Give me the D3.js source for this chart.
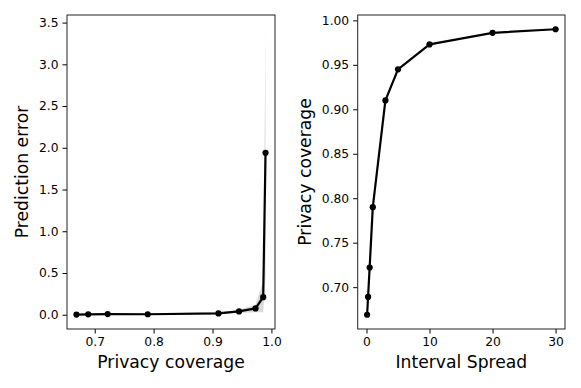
<!DOCTYPE html>
<html>
<head>
<meta charset="utf-8">
<script src="https://cdn.jsdelivr.net/npm/d3@7"></script>
<style>
  body { margin: 0; background: #fff; }
  svg text { font-family: "DejaVu Sans", sans-serif; fill: #000; }
</style>
</head>
<body>
<script>
// chart data
const coverage = [0.669, 0.689, 0.722, 0.790, 0.910, 0.945, 0.973, 0.986, 0.990];
const predError = [0.002, 0.005, 0.008, 0.006, 0.016, 0.04, 0.076, 0.21, 1.94];
const errLower = [0, 0, 0, 0, 0.005, 0.02, 0.03, 0.03, 0.45];
const errUpper = [0.01, 0.012, 0.02, 0.015, 0.03, 0.06, 0.12, 0.40, 3.42];
const spread = [0.1, 0.25, 0.5, 1, 3, 5, 10, 20, 30];
const leftYTicks = [0, 0.5, 1, 1.5, 2, 2.5, 3, 3.5];
const leftXTicks = [0.7, 0.8, 0.9, 1.0];
const rightYTicks = [0.70, 0.75, 0.80, 0.85, 0.90, 0.95, 1.00];
const rightXTicks = [0, 10, 20, 30];

const w = 581, h = 388;
const svg = d3.select("body").append("svg")
              .attr("width", w)
              .attr("height", h);

// matplotlib-like 5% padding
function padded(lo, hi) {
  const m = (hi - lo) * 0.05;
  return [lo - m, hi + m];
}

function panel(opts) {
  const g = svg.append("g");
  const x = d3.scaleLinear().domain(opts.xDomain).range([opts.left, opts.right]);
  const y = d3.scaleLinear().domain(opts.yDomain).range([opts.bottom, opts.top]);

  if (opts.band) {
    const area = d3.area()
                   .x(d => x(d[0]))
                   .y0(d => y(d[1]))
                   .y1(d => y(d[2]));
    g.append("path")
     .datum(opts.band)
     .attr("d", area)
     .attr("fill", "#000")
     .attr("fill-opacity", 0.15);
  }

  const pts = opts.xs.map((v, i) => [v, opts.ys[i]]);
  g.append("path")
   .datum(pts)
   .attr("d", d3.line().x(d => x(d[0])).y(d => y(d[1])))
   .attr("fill", "none")
   .attr("stroke", "#000")
   .attr("stroke-width", 2.2)
   .attr("stroke-linejoin", "round");
  g.selectAll("circle.pt")
   .data(pts)
   .enter()
   .append("circle")
   .attr("class", "pt")
   .attr("cx", d => x(d[0]))
   .attr("cy", d => y(d[1]))
   .attr("r", 3.1)
   .attr("fill", "#000");

  const xAxis = d3.axisBottom(x).tickValues(opts.xTicks).tickFormat(opts.xFmt)
                  .tickSize(4.5).tickSizeOuter(0).tickPadding(4);
  const yAxis = d3.axisLeft(y).tickValues(opts.yTicks).tickFormat(opts.yFmt)
                  .tickSize(4.5).tickSizeOuter(0).tickPadding(4);

  const gx = g.append("g").attr("transform", `translate(0,${opts.bottom})`).call(xAxis);
  const gy = g.append("g").attr("transform", `translate(${opts.left},0)`).call(yAxis);
  [gx, gy].forEach(a => {
    a.select(".domain").remove();
    a.selectAll("line").attr("stroke", "#000").attr("stroke-width", 1);
    a.selectAll("text").style("font-size", "12.3px");
  });

  // frame
  g.append("rect")
   .attr("x", opts.left)
   .attr("y", opts.top)
   .attr("width", opts.right - opts.left)
   .attr("height", opts.bottom - opts.top)
   .attr("fill", "none")
   .attr("stroke", "#222")
   .attr("stroke-width", 1);

  g.append("text")
   .text(opts.xLabel)
   .attr("x", (opts.left + opts.right) / 2)
   .attr("y", 368)
   .attr("text-anchor", "middle")
   .style("font-size", "17.2px");
  g.append("text")
   .text(opts.yLabel)
   .attr("transform", `translate(${opts.yLabelX},${(opts.top + opts.bottom) / 2}) rotate(-90)`)
   .attr("text-anchor", "middle")
   .attr("dy", "0.35em")
   .style("font-size", "17.2px");
}

panel({
  left: 67, right: 275, top: 15, bottom: 329,
  xs: coverage, ys: predError,
  band: coverage.map((v, i) => [v, errLower[i], errUpper[i]]),
  xDomain: padded(d3.min(coverage), d3.max(coverage)),
  yDomain: padded(d3.min(errLower), d3.max(errUpper)),
  xTicks: leftXTicks, yTicks: leftYTicks,
  xFmt: d3.format(".1f"), yFmt: d3.format(".1f"),
  xLabel: "Privacy coverage", yLabel: "Prediction error", yLabelX: 22
});

panel({
  left: 357.7, right: 565, top: 15, bottom: 329,
  xs: spread, ys: coverage,
  xDomain: padded(d3.min(spread), d3.max(spread)),
  yDomain: padded(d3.min(coverage), d3.max(coverage)),
  xTicks: rightXTicks, yTicks: rightYTicks,
  xFmt: d3.format("d"), yFmt: d3.format(".2f"),
  xLabel: "Interval Spread", yLabel: "Privacy coverage", yLabelX: 305
});
</script>
</body>
</html>
